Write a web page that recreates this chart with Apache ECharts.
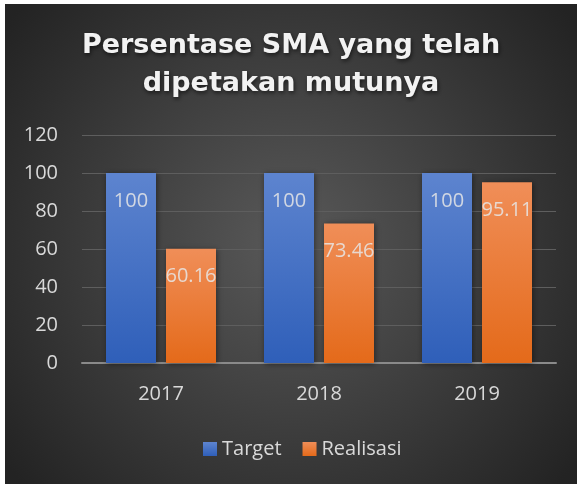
<!DOCTYPE html>
<html><head><meta charset="utf-8">
<script src="https://cdn.jsdelivr.net/npm/echarts@6/dist/echarts.min.js"></script>
<style>html,body{margin:0;padding:0;background:#fff;overflow:hidden}#c{position:absolute;left:5px;top:4px;width:572px;height:480px;}</style>
</head><body><div id="c"></div>
<script>
const titleText = 'Persentase SMA yang telah\ndipetakan mutunya';
const categories = ['2017', '2018', '2019'];
const seriesNames = ['Target', 'Realisasi'];
const targetValues = [100, 100, 100];
const realisasiValues = [60.16, 73.46, 95.11];
const yTicks = { min: 0, max: 120, interval: 20 };

const chart = echarts.init(document.getElementById('c'), null, { renderer: 'canvas' });
const font = '"Open Sans", sans-serif';
const txt = '#d9d9d9';
function grad(top, bottom) {
  return new echarts.graphic.LinearGradient(0, 0, 0, 1, [
    { offset: 0, color: top }, { offset: 1, color: bottom }
  ]);
}
const labelCfg = {
  show: true, position: 'insideTop', distance: 18,
  color: 'rgba(230,230,230,0.85)', fontSize: 20, fontFamily: font
};
chart.setOption({
  backgroundColor: new echarts.graphic.RadialGradient(0.5, 0.5, 0.75, [
    { offset: 0, color: '#595959' }, { offset: 1, color: '#232323' }
  ]),
  animation: false,
  title: {
    text: titleText, left: 'center', top: 18,
    textStyle: {
      color: '#f2f2f2', fontSize: 27, fontWeight: 'bold', fontFamily: '"DejaVu Sans", sans-serif',
      lineHeight: 38, textShadowColor: 'rgba(0,0,0,0.6)', textShadowBlur: 4,
      textShadowOffsetX: 1, textShadowOffsetY: 2
    }
  },
  legend: {
    data: seriesNames, left: 193, top: 430, itemWidth: 14, itemHeight: 14,
    itemGap: 21, icon: 'rect',
    textStyle: { color: txt, fontSize: 20, fontFamily: font }
  },
  grid: { left: 77, right: 21, top: 131, bottom: 121, containLabel: false },
  xAxis: {
    type: 'category', data: categories,
    axisLine: { lineStyle: { color: '#8a8a8a', width: 2 } },
    axisTick: { show: false },
    axisLabel: { color: txt, fontSize: 20, fontFamily: font, margin: 21 }
  },
  yAxis: {
    type: 'value', min: yTicks.min, max: yTicks.max, interval: yTicks.interval,
    axisLine: { show: false }, axisTick: { show: false },
    axisLabel: { color: txt, fontSize: 20, fontFamily: font, margin: 24 },
    splitLine: { lineStyle: { color: '#5e5e5e', width: 1 } }
  },
  series: [
    {
      name: seriesNames[0], type: 'bar', data: targetValues, barWidth: 50, barGap: '20%',
      itemStyle: { color: grad('#5d84cf', '#2f5fb9'), shadowColor: 'rgba(0,0,0,0.45)', shadowBlur: 6, shadowOffsetX: 1, shadowOffsetY: 1 },
      label: labelCfg
    },
    {
      name: seriesNames[1], type: 'bar', data: realisasiValues, barWidth: 50,
      itemStyle: { color: grad('#f08e58', '#e46a1a'), shadowColor: 'rgba(0,0,0,0.45)', shadowBlur: 6, shadowOffsetX: 1, shadowOffsetY: 1 },
      label: labelCfg
    }
  ]
});
</script>
</body></html>
